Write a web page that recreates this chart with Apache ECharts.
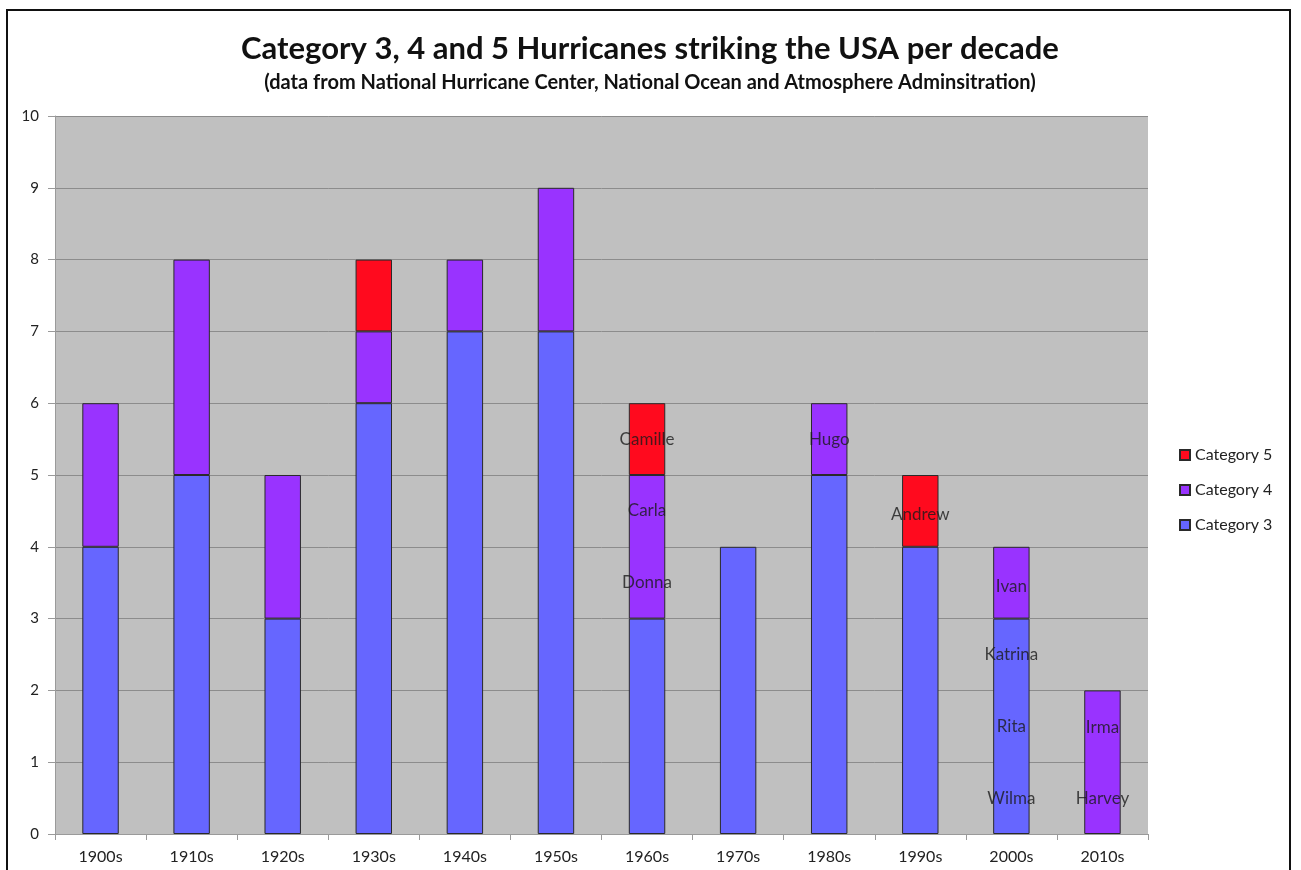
<!DOCTYPE html>
<html>
<head>
<meta charset="utf-8">
<script src="https://cdn.jsdelivr.net/npm/echarts@6/dist/echarts.min.js"></script>
<style>
  html, body { margin: 0; padding: 0; background: #fff; }
  #chart { width: 1301px; height: 870px; }
</style>
</head>
<body>
<div id="chart"></div>
<script>
// decades on the x axis
const decades = ['1900s', '1910s', '1920s', '1930s', '1940s', '1950s', '1960s', '1970s', '1980s', '1990s', '2000s', '2010s'];
// hurricane counts per decade
const cat3 = [4, 5, 3, 6, 7, 7, 3, 4, 5, 4, 3, 0];
const cat4 = [2, 3, 2, 1, 1, 2, 2, 0, 1, 0, 1, 2];
const cat5 = [0, 0, 0, 1, 0, 0, 1, 0, 0, 1, 0, 0];
// named storms written on the bars: decade, height, name
const stormDecades = ['1960s', '1960s', '1960s', '1980s', '1990s', '2000s', '2000s', '2000s', '2000s', '2010s', '2010s'];
const stormLevels = [5.5, 4.5, 3.5, 5.5, 4.45, 3.45, 2.5, 1.5, 0.5, 1.48, 0.5];
const stormNames = ['Camille', 'Carla', 'Donna', 'Hugo', 'Andrew', 'Ivan', 'Katrina', 'Rita', 'Wilma', 'Irma', 'Harvey'];

const FONT = 'Lato, "Open Sans", sans-serif';
const chart = echarts.init(document.getElementById('chart'));

// zero segments are left out so they don't draw a flat border line
const noZero = arr => arr.map(v => (v === 0 ? '-' : v));

function barSeries(name, data, color) {
  return {
    name: name,
    type: 'bar',
    stack: 'total',
    barWidth: '40%',
    data: noZero(data),
    itemStyle: { color: color, borderColor: '#2a2a2a', borderWidth: 1 },
    emphasis: { disabled: true }
  };
}

const option = {
  animation: false,
  textStyle: { fontFamily: FONT },
  graphic: [{
    type: 'rect',
    shape: { x: 7, y: 10, width: 1283, height: 900 },
    style: { fill: 'none', stroke: '#111', lineWidth: 2 },
    silent: true
  }],
  title: {
    text: 'Category 3, 4 and 5 Hurricanes striking the USA per decade',
    subtext: '(data from National Hurricane Center, National Ocean and Atmosphere Adminsitration)',
    left: 645,
    textAlign: 'center',
    top: 28,
    itemGap: 9,
    textStyle: { fontFamily: FONT, fontSize: 31, fontWeight: 'bold', color: '#111' },
    subtextStyle: { fontFamily: FONT, fontSize: 20, fontWeight: 'bold', color: '#111' }
  },
  legend: {
    orient: 'vertical',
    left: 1174,
    top: 442,
    itemGap: 19,
    itemWidth: 10,
    itemHeight: 10,
    icon: 'rect',
    data: ['Category 5', 'Category 4', 'Category 3'],
    textStyle: { fontFamily: FONT, fontSize: 16, color: '#222' }
  },
  grid: {
    left: 55,
    right: 153,
    top: 116,
    bottom: 36,
    show: true,
    backgroundColor: '#c0c0c0',
    borderWidth: 0
  },
  xAxis: {
    type: 'category',
    data: decades,
    axisLine: { lineStyle: { color: '#9a9a9a', width: 1 } },
    axisTick: { show: true, length: 6, lineStyle: { color: '#9a9a9a' } },
    axisLabel: { fontFamily: FONT, fontSize: 16, color: '#222', margin: 15 }
  },
  yAxis: {
    type: 'value',
    min: 0,
    max: 10,
    interval: 1,
    axisLine: { show: true, lineStyle: { color: '#9a9a9a' } },
    axisTick: { show: true, length: 7, lineStyle: { color: '#9a9a9a' } },
    axisLabel: { fontFamily: FONT, fontSize: 15, color: '#222', margin: 16 },
    splitLine: { lineStyle: { color: '#8c8c8c', width: 1 } }
  },
  series: [
    barSeries('Category 3', cat3, '#6666ff'),
    barSeries('Category 4', cat4, '#9933ff'),
    barSeries('Category 5', cat5, '#ff0a1e'),
    {
      name: 'storms',
      type: 'scatter',
      symbol: 'circle',
      symbolSize: 2,
      itemStyle: { color: 'rgba(0,0,0,0)' },
      silent: true,
      z: 5,
      data: stormNames.map((n, i) => ({ value: [stormDecades[i], stormLevels[i]], name: n })),
      label: {
        show: true,
        position: 'inside',
        formatter: p => p.name,
        fontFamily: FONT,
        fontSize: 17,
        color: '#1a1a1a'
      }
    }
  ]
};

chart.setOption(option);
</script>
</body>
</html>
